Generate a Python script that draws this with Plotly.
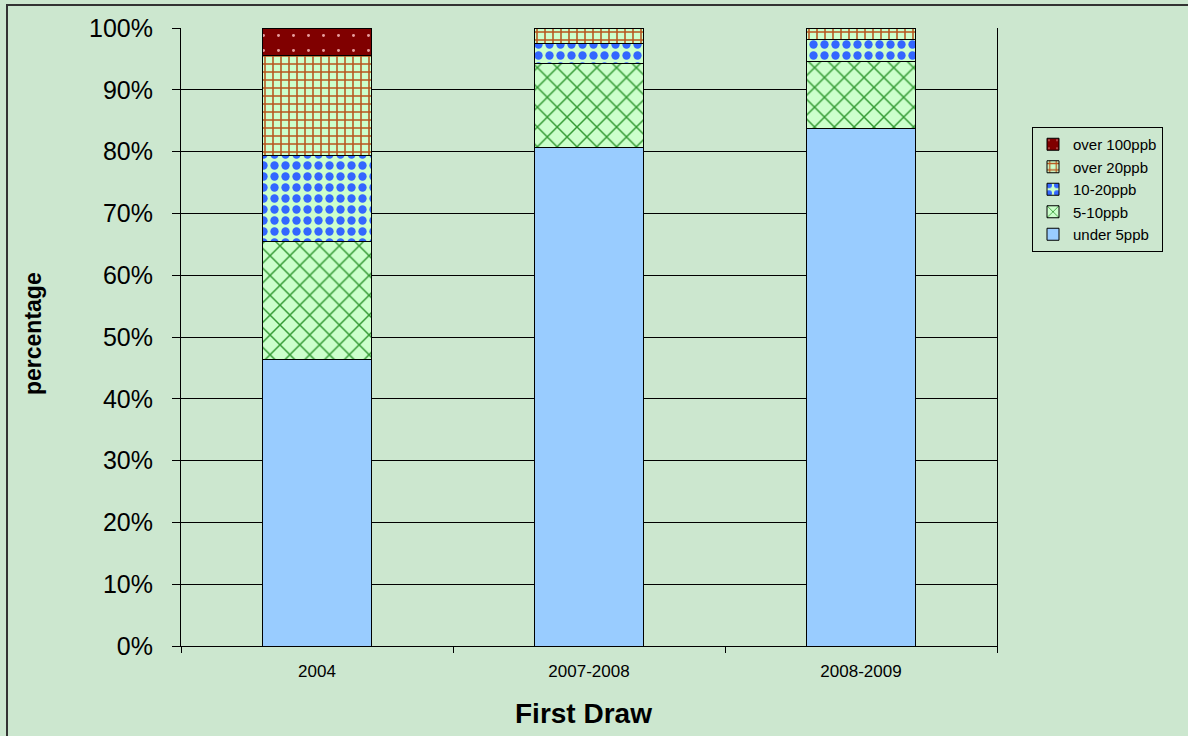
import plotly.graph_objects as go

categories = ["2004", "2007-2008", "2008-2009"]
under_5 = [46.3, 80.6, 83.8]
ppb_5_10 = [19.1, 13.6, 10.7]
ppb_10_20 = [14.0, 3.3, 3.6]
over_20 = [16.1, 2.5, 1.9]
over_100 = [4.5, 0.0, 0.0]
y_ticks = [0, 10, 20, 30, 40, 50, 60, 70, 80, 90, 100]

BG = "#CCE7CF"
LIGHT = "#CCFFCC"
FONT = "Arial, Liberation Sans, sans-serif"

series = [
    ("under 5ppb", under_5, dict(color="#99CCFF")),
    ("5-10ppb", ppb_5_10, dict(color=LIGHT, pattern=dict(shape="x", fgcolor="#339933", bgcolor=LIGHT,
                                                         size=14, solidity=0.2, fgopacity=1))),
    ("10-20ppb", ppb_10_20, dict(color=LIGHT, pattern=dict(shape=".", fgcolor="#3366FF", bgcolor=LIGHT,
                                                          size=11, solidity=0.45, fgopacity=1))),
    ("over 20ppb", over_20, dict(color=LIGHT, pattern=dict(shape="+", fgcolor="#B8561E", bgcolor=LIGHT,
                                                          size=8, solidity=0.35, fgopacity=1))),
    ("over 100ppb", over_100, dict(color="#800000", pattern=dict(shape=".", fgcolor="#E8A0A0", bgcolor="#800000",
                                                                size=15, solidity=0.03, fgopacity=1))),
]

fig = go.Figure()
for name, vals, mk in series:
    mk = dict(mk)
    mk["line"] = dict(color="black", width=1)
    fig.add_trace(go.Bar(x=categories, y=vals, name=name, marker=mk))

W, H = 1188, 736
L, R, T, B = 181, 997, 28, 646
pw, ph = R - L, B - T

fig.update_layout(
    width=W, height=H,
    barmode="stack", bargap=0.6,
    paper_bgcolor=BG, plot_bgcolor=BG,
    margin=dict(l=L, r=W - R, t=T, b=H - B),
    font=dict(family=FONT, color="black"),
    legend=dict(x=(1032 - L) / pw, y=1 - (127 - T) / ph, xanchor="left", yanchor="top",
                traceorder="reversed", bgcolor=BG, bordercolor="black", borderwidth=1,
                font=dict(size=15, family=FONT), itemwidth=30, tracegroupgap=0),
    showlegend=True,
)
fig.update_yaxes(range=[0, 100], tickvals=y_ticks, ticktext=[f"{v}%" for v in y_ticks],
                 showgrid=True, gridcolor="black", gridwidth=1,
                 showline=True, linecolor="black", linewidth=1, mirror=True,
                 ticks="outside", ticklen=8, tickcolor="black",
                 tickfont=dict(size=25, family=FONT), ticklabelstandoff=14, zeroline=False)
fig.update_xaxes(showline=True, linecolor="black", linewidth=1, mirror=False,
                 ticks="outside", tickson="boundaries", ticklen=6, tickcolor="black",
                 tickfont=dict(size=17, family=FONT), ticklabelstandoff=10)

fig.add_annotation(text="<b>First Draw</b>", xref="paper", yref="paper",
                   x=((583 - L) / pw), y=-(713 - B) / ph, showarrow=False,
                   font=dict(size=28, family=FONT), xanchor="center", yanchor="middle")
fig.add_annotation(text="<b>percentage</b>", xref="paper", yref="paper",
                   x=(33 - L) / pw, y=1 - (334 - T) / ph, showarrow=False, textangle=-90,
                   font=dict(size=23, family=FONT), xanchor="center", yanchor="middle")

# outer chart border
fig.add_shape(type="rect", xref="paper", yref="paper",
              x0=(7 - L) / pw, x1=(1210 - L) / pw, y0=-(760 - B) / ph, y1=1 + (T - 5) / ph,
              line=dict(color="#333333", width=2), fillcolor="rgba(0,0,0,0)", layer="below")

fig.write_html("out.html")
